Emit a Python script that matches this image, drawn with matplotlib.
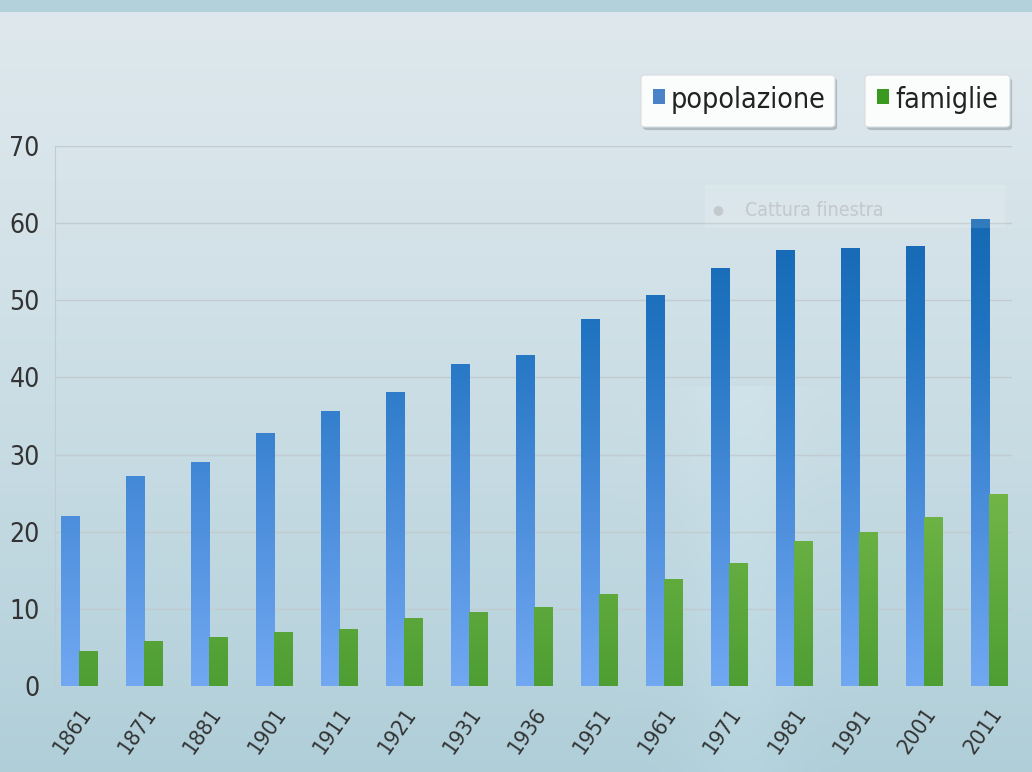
import numpy as np
import matplotlib
matplotlib.use("Agg")
import matplotlib.pyplot as plt
from matplotlib.patches import FancyBboxPatch, Rectangle
from matplotlib.colors import LinearSegmentedColormap
from matplotlib.transforms import ScaledTranslation

# Censimenti: popolazione e famiglie (migliaia)
anni = ["1861", "1871", "1881", "1901", "1911", "1921", "1931", "1936",
        "1951", "1961", "1971", "1981", "1991", "2001", "2011"]
popolazione = [22.1, 27.2, 29.0, 32.8, 35.6, 38.1, 41.7, 42.9,
               47.6, 50.7, 54.2, 56.5, 56.8, 57.0, 60.5]
famiglie = [4.6, 5.8, 6.4, 7.0, 7.4, 8.8, 9.6, 10.2,
            11.9, 13.9, 15.9, 18.8, 20.0, 21.9, 24.9]
yticks = [0, 10, 20, 30, 40, 50, 60, 70]

FONT = ["DejaVu Sans"]
STRETCH = "condensed"

fig = plt.figure(figsize=(10.32, 7.72), dpi=100)

# background gradient over the whole figure
bg = fig.add_axes([0, 0, 1, 1], zorder=-10)
h, w = 200, 300
yy = np.linspace(0, 1, h)[:, None]
xx = np.linspace(0, 1, w)[None, :]
top = np.array([0.87, 0.91, 0.93])
bot = np.array([0.69, 0.81, 0.85])
t = yy ** 1.3
img = top[None, None, :] * (1 - t[..., None]) + bot[None, None, :] * t[..., None]
img = img + 0.02 * np.exp(-((xx - 0.72) / 0.05) ** 2)[..., None] * (yy > 0.5)[..., None]
img = np.broadcast_to(img, (h, w, 3)).copy()
img[:3] = np.array([0.70, 0.82, 0.86])
bg.imshow(np.clip(img, 0, 1), aspect="auto", extent=[0, 1, 0, 1], origin="upper")
bg.set_axis_off()

ax = fig.add_axes([0.0533, 0.1114, 0.9273, 0.6995])
ax.set_facecolor("none")
x = np.arange(len(anni))
bw = 0.28

cmap_blue = LinearSegmentedColormap.from_list("b", ["#72a8f2", "#4a8ddb", "#1f73c0", "#0f62aa"])
cmap_green = LinearSegmentedColormap.from_list("g", ["#4e9e33", "#6fb446", "#9bcc64", "#b0d878"])
grad = np.linspace(0, 1, 256)[:, None]

blue = ax.bar(x - bw / 2, popolazione, bw, color="none", edgecolor="none", zorder=3)
green = ax.bar(x + bw / 2, famiglie, bw, color="none", edgecolor="none", zorder=3)
for bars, cmap in ((blue, cmap_blue), (green, cmap_green)):
    for b in bars:
        x0 = b.get_x()
        im = ax.imshow(grad, cmap=cmap, aspect="auto", origin="lower",
                       extent=[x0, x0 + b.get_width(), 0, 70], zorder=3)
        im.set_clip_path(b)

ax.set_xlim(-0.37, 14.35)
ax.set_ylim(0, 70)

ax.set_yticks(yticks)
ax.set_yticklabels([str(v) for v in yticks], family=FONT, fontstretch=STRETCH,
                   fontsize=19, color="#333333")
ax.yaxis.grid(True, color="#c2cbd0", linewidth=1.0, zorder=0)
ax.set_axisbelow(True)
ax.tick_params(axis="y", length=0, pad=11)
ax.set_xticks(x)
ax.set_xticklabels(anni, rotation=55, ha="right", rotation_mode="anchor",
                   family=FONT, fontstretch=STRETCH, fontsize=16, color="#333333")
for lab in ax.get_xticklabels():
    lab.set_transform(lab.get_transform() + ScaledTranslation(0.04, 0, fig.dpi_scale_trans))
ax.tick_params(axis="x", length=0, pad=13)
for s in ("top", "right", "bottom"):
    ax.spines[s].set_visible(False)
ax.spines["left"].set_color("#c2cbd0")

# faint window-capture overlay
fig.patches.append(Rectangle((705 / 1032, 1 - 228 / 772), 300 / 1032, 43 / 772,
                             transform=fig.transFigure, facecolor="white",
                             alpha=0.12, edgecolor="none", zorder=1))
fig.text(718 / 1032, 1 - 210 / 772, "●", fontsize=9, color="#c3c9cd",
         va="center", ha="center")
fig.text(745 / 1032, 1 - 210 / 772, "Cattura finestra", family=FONT, fontstretch=STRETCH,
         fontsize=14, color="#c3c9cd", va="center", ha="left")

# legend boxes
def legend_box(x0, x1, color, label):
    y0, y1 = 1 - 127 / 772, 1 - 75 / 772
    shadow = FancyBboxPatch((x0 / 1032 + 0.002, y0 - 0.004), (x1 - x0) / 1032, y1 - y0,
                            boxstyle="round,pad=0,rounding_size=0.004",
                            transform=fig.transFigure, facecolor="#7a8a90",
                            alpha=0.45, edgecolor="none", zorder=4)
    box = FancyBboxPatch((x0 / 1032, y0), (x1 - x0) / 1032, y1 - y0,
                         boxstyle="round,pad=0,rounding_size=0.004",
                         transform=fig.transFigure, facecolor="#fbfcfc",
                         edgecolor="#d8dde0", linewidth=0.8, zorder=5)
    fig.patches.extend([shadow, box])
    fig.patches.append(Rectangle(((x0 + 12) / 1032, 1 - 104 / 772), 12 / 1032, 15 / 772,
                                 transform=fig.transFigure, facecolor=color,
                                 edgecolor="none", zorder=6))
    fig.text((x0 + 30) / 1032, 1 - 100 / 772, label, family=FONT, fontstretch=STRETCH,
             fontsize=20.5, color="#222222", va="center", ha="left", zorder=7)

legend_box(641, 835, "#4a82c8", "popolazione")
legend_box(865, 1010, "#3a9a20", "famiglie")

fig.savefig("out.png", dpi=100)
